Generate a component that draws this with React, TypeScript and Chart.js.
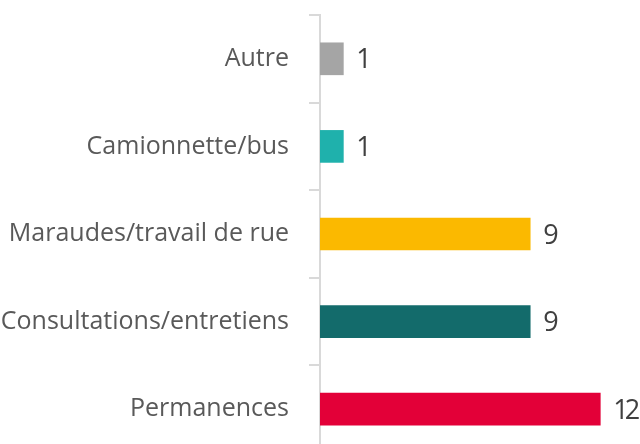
import React, { useEffect, useRef } from "react";
import { Chart, registerables } from "chart.js";

Chart.register(...registerables);

const categories = [
  "Autre",
  "Camionnette/bus",
  "Maraudes/travail de rue",
  "Consultations/entretiens",
  "Permanences",
];
const values = [1, 1, 9, 9, 12];
const barColors = ["#a5a5a5", "#1fb1ac", "#fbb900", "#136b6b", "#e30038"];

const FONT = "'Open Sans', Lato, sans-serif";

const valueLabels = {
  id: "valueLabels",
  afterDatasetsDraw(chart: any) {
    const ctx = chart.ctx;
    const meta = chart.getDatasetMeta(0);
    ctx.save();
    ctx.font = `27px ${FONT}`;
    (ctx as any).letterSpacing = "-4px";
    ctx.fillStyle = "#404040";
    ctx.textAlign = "left";
    ctx.textBaseline = "middle";
    meta.data.forEach((bar: any, i: number) => {
      ctx.fillText(String(values[i]), bar.x + 13, bar.y + 2);
    });
    ctx.restore();
  },
};

export default function App() {
  const ref = useRef<HTMLCanvasElement>(null);
  useEffect(() => {
    document.body.style.margin = "0";
    document.body.style.overflow = "hidden";
    document.documentElement.style.overflow = "hidden";
    const chart = new Chart(ref.current!, {
      type: "bar",
      data: {
        labels: categories,
        datasets: [
          {
            data: values,
            backgroundColor: barColors,
            barThickness: 32,
          },
        ],
      },
      options: {
        indexAxis: "y",
        animation: false,
        responsive: false,
        maintainAspectRatio: false,
        layout: { padding: { top: 15, bottom: 0, left: 0, right: 0 } },
        plugins: { legend: { display: false }, tooltip: { enabled: false } },
        scales: {
          x: { display: false, min: 0, max: 13.7 },
          y: {
            offset: true,
            afterFit: (scale: any) => {
              scale.width = 320;
              scale.paddingTop = 0;
              scale.paddingBottom = 0;
            },
            border: { display: true, color: "#d9d9d9", width: 2 },
            grid: {
              offset: true,
              drawOnChartArea: false,
              drawTicks: true,
              tickLength: 11,
              color: "#d9d9d9",
              lineWidth: 2,
            },
            ticks: {
              padding: 20,
              color: "#595959",
              font: { family: FONT, size: 25 },
            },
          },
        },
      },
      plugins: [valueLabels],
    });
    return () => chart.destroy();
  }, []);
  return <canvas ref={ref} width={640} height={453} style={{ display: "block" }} />;
}
